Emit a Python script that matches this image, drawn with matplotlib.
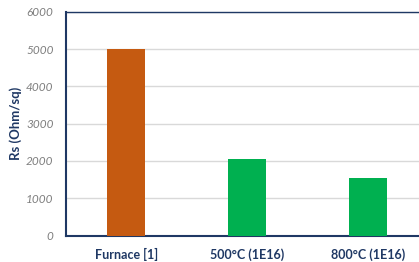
import matplotlib
matplotlib.use("Agg")
import matplotlib.pyplot as plt

categories = ["Furnace [1]", "500°C (1E16)", "800°C (1E16)"]
values = [5000, 2050, 1550]
colors = ["#C55A11", "#00B050", "#00B050"]
yticks = [0, 1000, 2000, 3000, 4000, 5000, 6000]

navy = "#1F3864"
fig = plt.figure(figsize=(4.19, 2.62), dpi=100)
ax = fig.add_axes([66/419, 26.5/262, (428-66)/419, (235.5-11.7)/262])
x = list(range(len(categories)))
ax.bar(x, values, width=0.315, color=colors, zorder=3)
ax.set_xlim(-0.5, 2.5)
ax.set_ylim(0, 6000)
ax.set_yticks(yticks)
ax.set_yticklabels([str(v) for v in yticks], fontfamily="Lato", fontstyle="italic",
                   fontsize=8.5, color="#7F7F7F")
ax.set_xticks(x)
ax.set_xticklabels(categories, fontfamily="Lato", fontweight="bold", fontsize=9.0, color=navy)
ax.tick_params(axis="both", length=0)
ax.tick_params(axis="y", pad=9)
ax.tick_params(axis="x", pad=9)
ax.grid(axis="y", color="#D9D9D9", linewidth=1, zorder=0)
for s in ["left", "bottom"]:
    ax.spines[s].set_color(navy)
    ax.spines[s].set_linewidth(1.5)
ax.spines["top"].set_color(navy)
ax.spines["top"].set_linewidth(1.0)
ax.spines["right"].set_visible(False)
ax.set_ylabel("Rs (Ohm/sq)", fontfamily="Lato", fontweight="bold", fontsize=9.5, color=navy, labelpad=3)
fig.savefig("out.png", dpi=100)
